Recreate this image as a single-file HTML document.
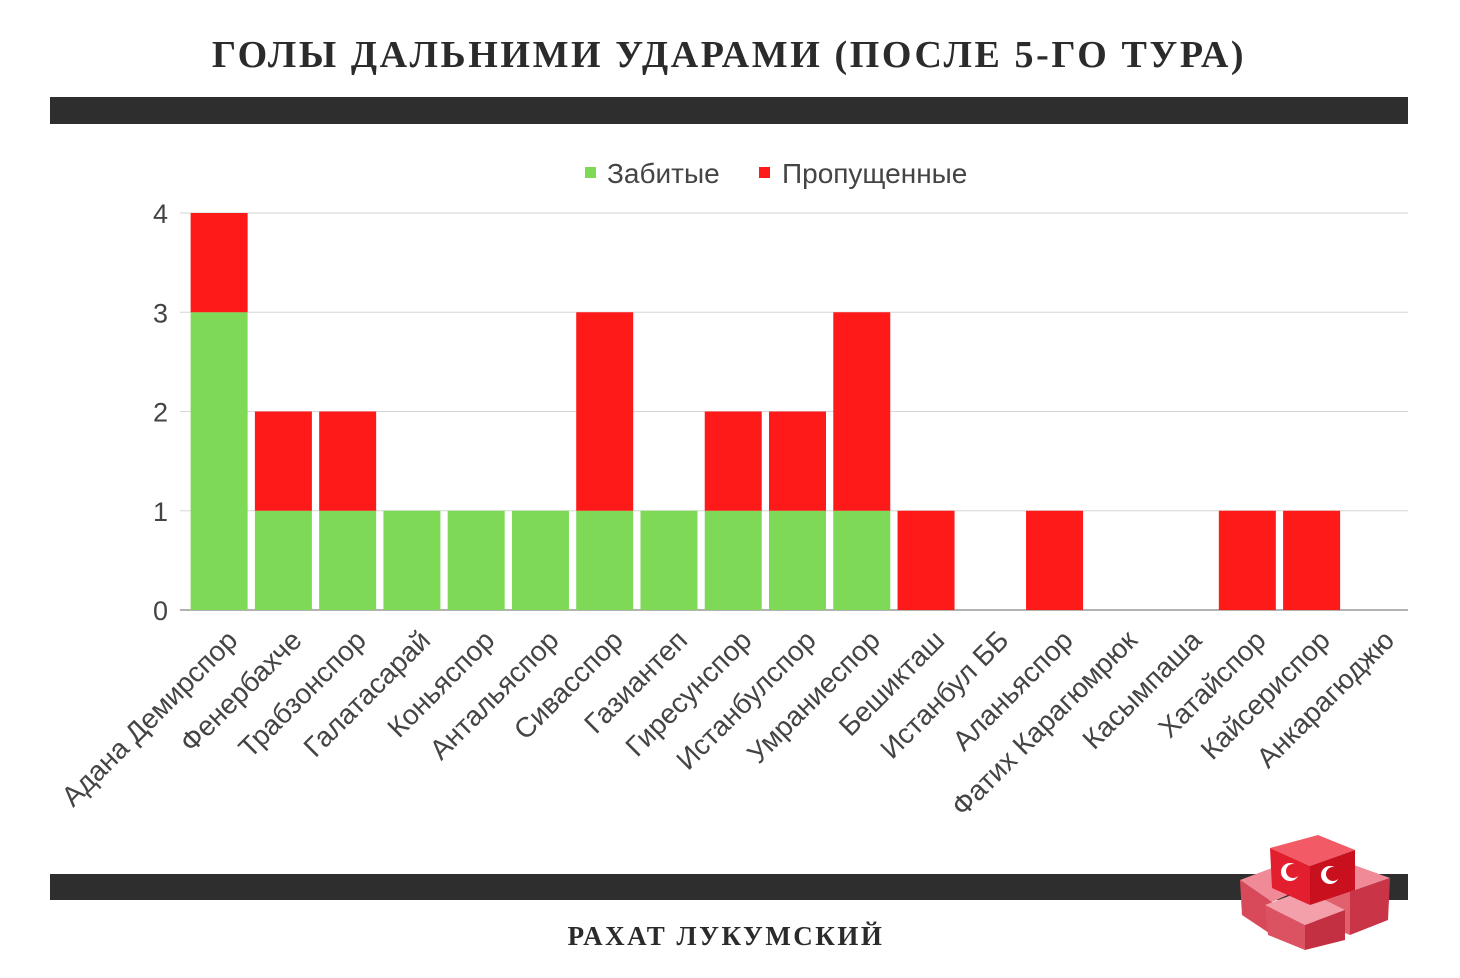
<!DOCTYPE html>
<html><head><meta charset="utf-8">
<style>
html,body{margin:0;padding:0;background:#fff;}
body{width:1460px;height:973px;position:relative;overflow:hidden;font-family:"Liberation Sans","DejaVu Sans",sans-serif;}
</style></head>
<body>
<svg id="chart" width="1460" height="973" xmlns="http://www.w3.org/2000/svg">
<text x="729" y="67" text-anchor="middle" font-family="Liberation Serif, DejaVu Serif, serif" font-weight="bold" font-size="38" fill="#2b2b2b" letter-spacing="2.6">ГОЛЫ ДАЛЬНИМИ УДАРАМИ (ПОСЛЕ 5-ГО ТУРА)</text>
<rect x="50" y="97" width="1358" height="27" fill="#2e2e2e"/>
<rect x="50" y="874" width="1358" height="26" fill="#2e2e2e"/>
<text x="726" y="945" text-anchor="middle" font-family="Liberation Serif, DejaVu Serif, serif" font-weight="bold" font-size="27" fill="#2b2b2b" letter-spacing="2.5">РАХАТ ЛУКУМСКИЙ</text>
<g>
<rect x="585" y="167" width="11" height="11" fill="#7ed957"/>
<text x="607" y="183" font-size="28" fill="#444">Забитые</text>
<rect x="759" y="167" width="11" height="11" fill="#ff1a1a"/>
<text x="782" y="183" font-size="28" fill="#444">Пропущенные</text>
</g>
<g id="grid"></g><g id="bars"></g><g id="xl"></g>
<g>
<polygon points="1240,880 1280,865 1310,885 1272,902" fill="#f08a96"/>
<polygon points="1240,880 1272,902 1272,935 1242,915" fill="#d84a5a"/>
<polygon points="1300,870 1340,860 1390,878 1350,892" fill="#f08a96"/>
<polygon points="1350,892 1390,878 1388,920 1350,935" fill="#c93446"/>
<polygon points="1300,870 1350,892 1350,935 1300,915" fill="#e0606e"/>
<polygon points="1265,905 1305,890 1345,910 1305,925" fill="#f3a0aa"/>
<polygon points="1265,905 1305,925 1305,950 1268,935" fill="#db5262"/>
<polygon points="1305,925 1345,910 1345,940 1305,950" fill="#c23042"/>
<polygon points="1270,848 1318,835 1355,850 1310,866" fill="#f25a66"/>
<polygon points="1270,848 1310,866 1310,905 1272,888" fill="#e31e2e"/>
<polygon points="1310,866 1355,850 1355,890 1310,905" fill="#c8101f"/>
<circle cx="1290" cy="872" r="9" fill="#fff"/><circle cx="1293" cy="871" r="7" fill="#e31e2e"/>
<circle cx="1330" cy="875" r="9" fill="#fff"/><circle cx="1333" cy="874" r="7" fill="#c8101f"/>
</g>
</svg>
<script>
const categories=["Адана Демирспор","Фенербахче","Трабзонспор","Галатасарай","Коньяспор","Антальяспор","Сивасспор","Газиантеп","Гиресунспор","Истанбулспор","Умраниеспор","Бешикташ","Истанбул ББ","Аланьяспор","Фатих Карагюмрюк","Касымпаша","Хатайспор","Кайсериспор","Анкарагюджю"];
const scored=[3,1,1,1,1,1,1,1,1,1,1,0,0,0,0,0,0,0,0];
const conceded=[1,1,1,0,0,0,2,0,1,1,2,1,0,1,0,0,1,1,0];
const yTicks=[0,1,2,3,4];
const NS="http://www.w3.org/2000/svg";
const x0=187,x1=1408,y0=610,yTop=213,yMax=4;
const step=(x1-x0)/categories.length;
const yS=v=>y0-(v/yMax)*(y0-yTop);
const xC=i=>x0+step*(i+0.5);
function mk(t,a,p){const e=document.createElementNS(NS,t);for(const k in a)e.setAttribute(k,a[k]);p.appendChild(e);return e;}
const grid=document.getElementById('grid'),bars=document.getElementById('bars'),xl=document.getElementById('xl');
yTicks.forEach(t=>{
 const l=mk('line',{x1:180,x2:x1,y1:yS(t),y2:yS(t),stroke:t===0?'#999':'#d6d6d6','stroke-width':t===0?1.5:1},grid);
 
 
 const tx=mk('text',{x:168,y:yS(t)+10,'text-anchor':'end','font-size':27,fill:'#444'},grid);
 tx.textContent=t;
 
 
});
const bw=57;
categories.forEach((c,i)=>{
 const cx=xC(i);
 if(scored[i]>0){
  const r=mk('rect',{x:cx-bw/2,y:yS(scored[i]),width:bw,height:y0-yS(scored[i]),fill:'#7ed957'},bars);
  
  
 }
 if(conceded[i]>0){
  const top=scored[i]+conceded[i];
  const r=mk('rect',{x:cx-bw/2,y:yS(top),width:bw,height:yS(scored[i])-yS(top),fill:'#ff1a1a'},bars);
  
  
 }
 const ax=cx+20, ay=642;
 const t=mk('text',{x:ax,y:ay,'text-anchor':'end','font-size':28,fill:'#444',transform:`rotate(-45 ${ax} ${ay})`},xl);
 t.textContent=c;
 
 
});
</script>
</body></html>
